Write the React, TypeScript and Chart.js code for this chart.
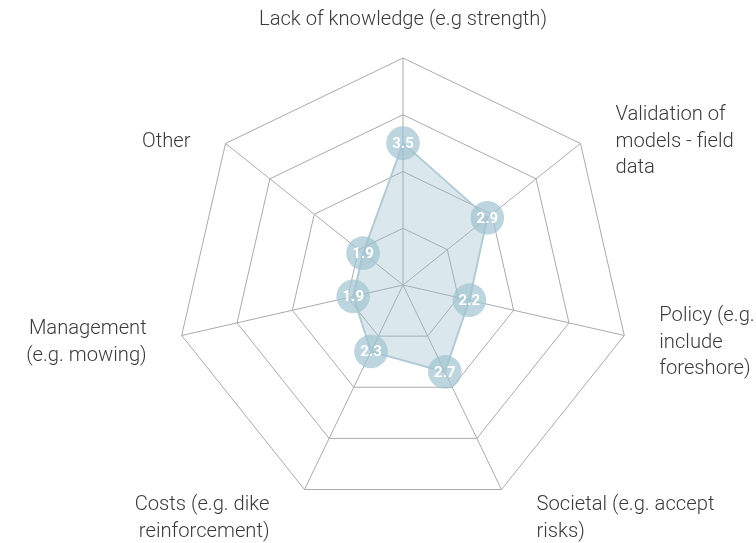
import React, { useEffect, useRef } from "react";
import { Chart, registerables } from "chart.js";

Chart.register(...registerables);

const categories: (string | string[])[] = [
  "Lack of knowledge (e.g strength)",
  ["Validation of", "models - field", "data"],
  ["Policy (e.g.", "include", "foreshore)"],
  ["Societal (e.g. accept", "risks)"],
  ["Costs (e.g. dike", "reinforcement)"],
  ["Management", "(e.g. mowing)"],
  "Other",
];
const values = [3.5, 2.9, 2.2, 2.7, 2.3, 1.9, 1.9];
const scaleMin = 1;
const scaleMax = 5;
const scaleStep = 1;

const CENTER_X = 403;
const CENTER_Y = 285;
const RADIUS = 227;
const LABEL_FONT_SIZE = 20.2;
const LABEL_LINE = 26.5;
const LABEL_GAP_X = 35;
const LABEL_GAP_TOP = 25;

const valueLabels = {
  id: "valueLabels",
  afterDatasetsDraw(chart: any) {
    const ctx = chart.ctx;
    const meta = chart.getDatasetMeta(0);
    ctx.save();
    ctx.fillStyle = "#ffffff";
    ctx.font = "bold 15px Roboto";
    ctx.textAlign = "center";
    ctx.textBaseline = "middle";
    meta.data.forEach((pt: any, i: number) => {
      ctx.fillText(values[i].toFixed(1), pt.x, pt.y + 1);
    });
    ctx.restore();
  },
};

function placeScale(scale: any) {
  scale.xCenter = CENTER_X;
  scale.yCenter = CENTER_Y;
  scale.drawingArea = RADIUS;
  const ctx = scale.ctx;
  ctx.save();
  ctx.font = `300 ${LABEL_FONT_SIZE}px Roboto`;
  scale._pointLabelItems = scale._pointLabels.map((lbl: any, i: number) => {
    const lines: string[] = Array.isArray(lbl) ? lbl : [lbl];
    const w = Math.max(...lines.map((l) => ctx.measureText(l).width));
    const h = lines.length * LABEL_LINE;
    const v = scale.getPointPosition(i, RADIUS);
    const ang = scale.getIndexAngle(i);
    const s = Math.sin(ang);
    const c = Math.cos(ang);
    let textAlign: string;
    let x: number;
    let top: number;
    if (Math.abs(s) < 0.01) {
      textAlign = "center";
      x = v.x;
      top = v.y - LABEL_GAP_TOP - h;
    } else {
      textAlign = s > 0 ? "left" : "right";
      x = v.x + (s > 0 ? LABEL_GAP_X : -LABEL_GAP_X);
      if (c < -0.5) top = v.y + 2.5;
      else if (c < 0) top = v.y - h / 2 + 7;
      else top = v.y - h / 2 - 2;
    }
    const left = textAlign === "left" ? x : textAlign === "right" ? x - w : x - w / 2;
    return { visible: true, x, y: top, textAlign, left, top, right: left + w, bottom: top + h };
  });
  ctx.restore();
}

export default function App() {
  const ref = useRef<HTMLCanvasElement>(null);
  useEffect(() => {
    document.body.style.margin = "0";
    const chart = new Chart(ref.current!, {
      type: "radar",
      data: {
        labels: categories,
        datasets: [
          {
            data: values,
            backgroundColor: "rgba(150,185,200,0.35)",
            borderColor: "#b3cbd5",
            borderWidth: 2,
            pointRadius: 16.8,
            pointHoverRadius: 16.8,
            pointBackgroundColor: "rgba(160,195,208,0.7)",
            pointBorderWidth: 0,
            pointBorderColor: "rgba(0,0,0,0)",
          },
        ],
      },
      options: {
        animation: false,
        responsive: true,
        maintainAspectRatio: false,
        plugins: { legend: { display: false }, tooltip: { enabled: false } },
        scales: {
          r: {
            min: scaleMin,
            max: scaleMax,
            ticks: { stepSize: scaleStep, display: false },
            grid: { color: "#aaaaaa", lineWidth: 1 },
            angleLines: { color: "#aaaaaa", lineWidth: 1 },
            pointLabels: {
              color: "#3a3a3a",
              font: { family: "Roboto", size: LABEL_FONT_SIZE, weight: 300, lineHeight: LABEL_LINE / LABEL_FONT_SIZE },
              padding: 8,
            },
            afterFit: placeScale,
          } as any,
        },
      },
      plugins: [valueLabels],
    });
    return () => chart.destroy();
  }, []);
  return (
    <div style={{ width: 756, height: 543, position: "relative" }}>
      <canvas ref={ref} />
    </div>
  );
}
